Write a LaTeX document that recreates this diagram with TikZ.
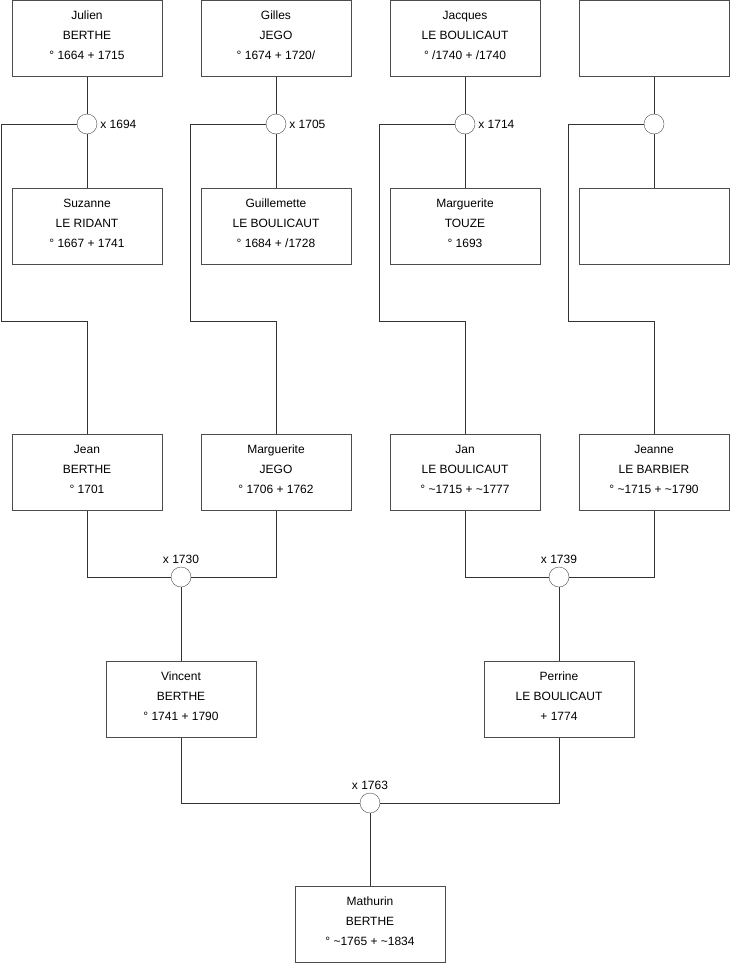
\documentclass[tikz,border=0pt]{standalone}
\usepackage{fontspec}
\setmainfont{Liberation Sans}

\begin{document}
\begin{tikzpicture}[x=1pt,y=-1pt,
  p/.style={draw=black!70,fill=white,minimum width=150pt,minimum height=76pt,inner sep=0pt,text depth=7pt,align=center,font=\fontsize{12}{20}\selectfont},
  u/.style={circle,draw=black!70,fill=white,minimum size=20pt,inner sep=0pt},
  lbl/.style={font=\fontsize{12}{14}\selectfont,inner sep=1pt},
  l/.style={draw=black!80,line width=0.8pt}]
\useasboundingbox (0,0) rectangle (740,975);

% grands-parents
\node[p] (julien) at (87,38.5) {Julien\\BERTHE\\° 1664 + 1715};
\node[p] (gilles) at (276,38.5) {Gilles\\JEGO\\° 1674 + 1720/};
\node[p] (jacques) at (465,38.5) {Jacques\\LE BOULICAUT\\° /1740 + /1740};
\node[p] (x1) at (654,38.5) {};

\node[p] (suzanne) at (87,226.5) {Suzanne\\LE RIDANT\\° 1667 + 1741};
\node[p] (guillemette) at (276,226.5) {Guillemette\\LE BOULICAUT\\° 1684 + /1728};
\node[p] (margtouze) at (465,226.5) {Marguerite\\TOUZE\\° 1693};
\node[p] (x2) at (654,226.5) {};

\node[u] (u1) at (87,124) {};
\node[u] (u2) at (276,124) {};
\node[u] (u3) at (465,124) {};
\node[u] (u4) at (654,124) {};
\node[lbl,right=2pt] at (u1.east) {x 1694};
\node[lbl,right=2pt] at (u2.east) {x 1705};
\node[lbl,right=2pt] at (u3.east) {x 1714};

% parents
\node[p] (jean) at (87,472.5) {Jean\\BERTHE\\° 1701};
\node[p] (margjego) at (276,472.5) {Marguerite\\JEGO\\° 1706 + 1762};
\node[p] (jan) at (465,472.5) {Jan\\LE BOULICAUT\\° \textasciitilde1715 + \textasciitilde1777};
\node[p] (jeanne) at (654,472.5) {Jeanne\\LE BARBIER\\° \textasciitilde1715 + \textasciitilde1790};

\coordinate (k1) at (1,321);
\coordinate (k2) at (190,321);
\coordinate (k3) at (379,321);
\coordinate (k4) at (568,321);

\foreach \a/\b/\c/\k/\e in {julien/u1/suzanne/k1/jean,gilles/u2/guillemette/k2/margjego,
  jacques/u3/margtouze/k3/jan,x1/u4/x2/k4/jeanne}{
  \draw[l] (\a.south) -- (\b.north);
  \draw[l] (\b.south) -- (\c.north);
  \draw[l] (\b.west) -| (\k) -| (\e.north);
}

\node[u] (u5) at (181,577) {};
\node[u] (u6) at (559,577) {};
\node[lbl,above=2pt] at (u5.north) {x 1730};
\node[lbl,above=2pt] at (u6.north) {x 1739};
\draw[l] (jean.south) |- (u5.west);
\draw[l] (u5.east) -| (margjego.south);
\draw[l] (jan.south) |- (u6.west);
\draw[l] (u6.east) -| (jeanne.south);

\node[p] (vincent) at (181,699.5) {Vincent\\BERTHE\\° 1741 + 1790};
\node[p] (perrine) at (559,699.5) {Perrine\\LE BOULICAUT\\+ 1774};
\draw[l] (u5.south) -- (vincent.north);
\draw[l] (u6.south) -- (perrine.north);

\node[u] (u7) at (370,803) {};
\node[lbl,above=2pt] at (u7.north) {x 1763};
\draw[l] (vincent.south) |- (u7.west);
\draw[l] (u7.east) -| (perrine.south);

\node[p] (mathurin) at (370,924.5) {Mathurin\\BERTHE\\° \textasciitilde1765 + \textasciitilde1834};
\draw[l] (u7.south) -- (mathurin.north);
\end{tikzpicture}
\end{document}
